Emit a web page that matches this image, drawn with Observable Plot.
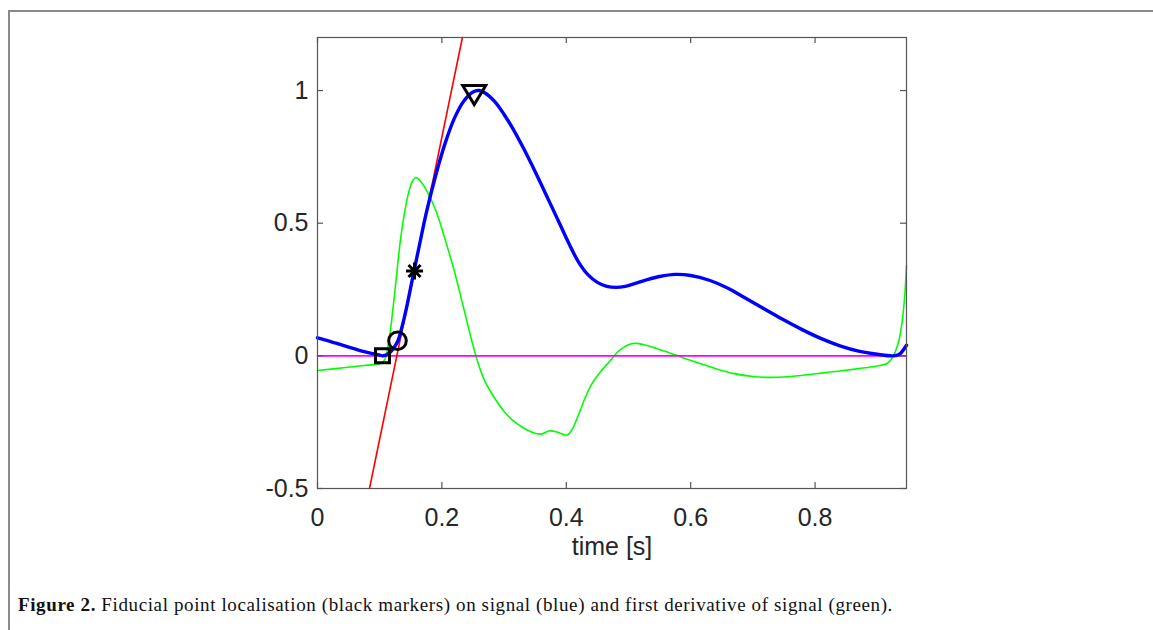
<!DOCTYPE html>
<html><head><meta charset="utf-8">
<script src="https://cdn.jsdelivr.net/npm/d3@7"></script>
<script src="https://cdn.jsdelivr.net/npm/@observablehq/plot@0.6"></script>
<style>
html,body{margin:0;padding:0;background:#fff;}
#wrap{position:relative;width:1153px;height:630px;overflow:hidden;background:#fff;}
#chart{position:absolute;left:0;top:0;}
#border{position:absolute;left:8px;top:10px;right:-10px;bottom:-10px;border-left:2px solid #8a8a8a;border-top:2px solid #8a8a8a;pointer-events:none;}
#caption{position:absolute;left:18px;top:593px;font-family:"Liberation Serif","Times New Roman",serif;font-size:19px;color:#111;white-space:nowrap;line-height:24px;}
</style></head><body>
<div id="wrap"><div id="chart"></div><div id="border"></div><div id="caption"><b>Figure 2.</b> Fiducial point localisation (black markers) on signal (blue) and first derivative of signal (green).</div></div>
<script>
// ---- data ----
const signalTime  = [0.00,0.02,0.04,0.06,0.08,0.10,0.105,0.115,0.122,0.129,0.136,0.143,0.15,0.157,0.165,0.175,0.19,0.205,0.22,0.235,0.25,0.26,0.27,0.285,0.30,0.315,0.33,0.345,0.36,0.375,0.39,0.405,0.42,0.435,0.45,0.465,0.48,0.495,0.51,0.53,0.55,0.575,0.60,0.63,0.66,0.69,0.72,0.75,0.78,0.81,0.84,0.87,0.90,0.925,0.935,0.947];
const signalValue = [0.068,0.055,0.040,0.026,0.013,0.003,0.0,0.01,0.028,0.055,0.11,0.18,0.26,0.34,0.43,0.54,0.68,0.80,0.895,0.96,0.995,1.0,0.99,0.958,0.91,0.853,0.788,0.718,0.645,0.57,0.495,0.42,0.352,0.305,0.277,0.262,0.258,0.262,0.272,0.287,0.299,0.307,0.303,0.285,0.255,0.215,0.175,0.135,0.098,0.065,0.038,0.018,0.006,0.0,0.005,0.04];

const derivTime  = [0.00,0.03,0.06,0.09,0.10,0.108,0.115,0.12,0.127,0.133,0.14,0.147,0.153,0.158,0.165,0.175,0.19,0.205,0.22,0.235,0.25,0.26,0.27,0.285,0.30,0.315,0.33,0.345,0.36,0.372,0.385,0.395,0.402,0.41,0.42,0.43,0.44,0.455,0.47,0.485,0.50,0.51,0.525,0.545,0.565,0.585,0.61,0.64,0.67,0.70,0.72,0.75,0.78,0.81,0.84,0.87,0.90,0.915,0.922,0.928,0.935,0.94,0.944,0.947];
const derivValue = [-0.055,-0.048,-0.040,-0.033,-0.030,-0.015,0.06,0.15,0.30,0.43,0.54,0.62,0.66,0.672,0.66,0.625,0.55,0.44,0.32,0.18,0.04,-0.04,-0.10,-0.16,-0.21,-0.245,-0.27,-0.288,-0.295,-0.283,-0.287,-0.296,-0.298,-0.275,-0.22,-0.16,-0.11,-0.06,-0.02,0.02,0.042,0.047,0.042,0.028,0.012,-0.005,-0.025,-0.048,-0.067,-0.078,-0.081,-0.08,-0.073,-0.065,-0.057,-0.048,-0.038,-0.03,-0.015,0.01,0.06,0.13,0.22,0.34];

const baselineTime  = [0, 0.947];
const baselineValue = [0, 0];

const tangentTime  = [0.0836, 0.233];
const tangentValue = [-0.5, 1.2];

const markerKind  = ["square","circle","asterisk","triangleDown"];
const markerTime  = [0.1045, 0.1286, 0.156, 0.252];
const markerValue = [0.0, 0.057, 0.32, 0.983];

const xTicks = [0, 0.2, 0.4, 0.6, 0.8];
const xTickLabels = ["0","0.2","0.4","0.6","0.8"];
const yTicks = [-0.5, 0, 0.5, 1];
const yTickLabels = ["-0.5","0","0.5","1"];
const xLabel = "time [s]";

// ---- build ----
const signal = signalTime.map((t,i)=>({t, v: signalValue[i]}));
const deriv = derivTime.map((t,i)=>({t, v: derivValue[i]}));
const baseline = baselineTime.map((t,i)=>({t, v: baselineValue[i]}));
const tangent = tangentTime.map((t,i)=>({t, v: tangentValue[i]}));
const markers = markerTime.map((t,i)=>({t, v: markerValue[i], k: markerKind[i]}));

const symbols = {
  square: {draw(c, size){const s=Math.sqrt(size/Math.PI); const h=0.7*s; c.moveTo(-h,-h); c.lineTo(h,-h); c.lineTo(h,h); c.lineTo(-h,h); c.closePath();}},
  circle: {draw(c, size){const s=Math.sqrt(size/Math.PI); const r=0.88*s; c.moveTo(r,0); c.arc(0,0,r,0,2*Math.PI); c.closePath();}},
  asterisk: {draw(c, size){const s=Math.sqrt(size/Math.PI); const r=0.85*s; const d=r*Math.SQRT1_2;
    c.moveTo(0,-r); c.lineTo(0,r); c.moveTo(-r,0); c.lineTo(r,0);
    c.moveTo(-d,-d); c.lineTo(d,d); c.moveTo(-d,d); c.lineTo(d,-d);}},
  triangleDown: {draw(c, size){const s=Math.sqrt(size/Math.PI); const w=1.15*s, h=0.95*s;
    c.moveTo(-w,-h); c.lineTo(w,-h); c.lineTo(0,h); c.closePath();}}
};

const W = 1153, H = 580;
const mL = 317, mR = W - 906, mT = 37, mB = H - 488;
const innerW = W - mL - mR, innerH = H - mT - mB;
const axisColor = "#555555";
const tick = 6;

const xFmt = d => xTickLabels[xTicks.indexOf(d)];
const yFmt = d => yTickLabels[yTicks.indexOf(d)];

const chart = Plot.plot({
  width: W, height: H,
  marginLeft: mL, marginRight: mR, marginTop: mT, marginBottom: mB,
  x: {domain: [0, 0.947], axis: null},
  y: {domain: [-0.5, 1.2], axis: null},
  style: {fontFamily: "'Liberation Sans', Arial, sans-serif", fontSize: "25px", color: "#262626", background: "transparent", overflow: "visible"},
  marks: [
    Plot.line(deriv, {x: "t", y: "v", stroke: "#00ff00", strokeWidth: 1.6, curve: "catmull-rom"}),
    Plot.line(baseline, {x: "t", y: "v", stroke: "#ff00ff", strokeWidth: 1.6}),
    Plot.line(tangent, {x: "t", y: "v", stroke: "#ff0000", strokeWidth: 1.6}),
    Plot.line(signal, {x: "t", y: "v", stroke: "#0000ff", strokeWidth: 3.4, curve: "catmull-rom"}),
    ...markerKind.map(k => Plot.dot(markers.filter(d => d.k === k), {x: "t", y: "v", r: 10, symbol: symbols[k], stroke: "#000", strokeWidth: 3, fill: "none"})),
    Plot.frame({stroke: axisColor, strokeWidth: 1.2}),
    Plot.tickX(xTicks, {x: d => d, insetTop: innerH - tick, stroke: axisColor, strokeWidth: 1.2}),
    Plot.tickX(xTicks, {x: d => d, insetBottom: innerH - tick, stroke: axisColor, strokeWidth: 1.2}),
    Plot.tickY(yTicks, {y: d => d, insetRight: innerW - tick, stroke: axisColor, strokeWidth: 1.2}),
    Plot.tickY(yTicks, {y: d => d, insetLeft: innerW - tick, stroke: axisColor, strokeWidth: 1.2}),
    Plot.axisX(xTicks, {tickSize: 0, tickPadding: 20, tickFormat: xFmt, fontSize: 25, fill: "#262626", label: null}),
    Plot.axisY(yTicks, {tickSize: 0, tickPadding: 9, tickFormat: yFmt, fontSize: 25, fill: "#262626", label: null}),
    Plot.text([xLabel], {text: d => d, frameAnchor: "bottom", dy: 66, fontSize: 25, fill: "#262626"})
  ]
});
document.getElementById("chart").appendChild(chart);

// fit caption width to the reference span
const cap = document.getElementById("caption");
const w0 = cap.getBoundingClientRect().width;
const n = cap.textContent.length;
cap.style.letterSpacing = ((875 - w0) / n) + "px";
</script>
</body></html>
